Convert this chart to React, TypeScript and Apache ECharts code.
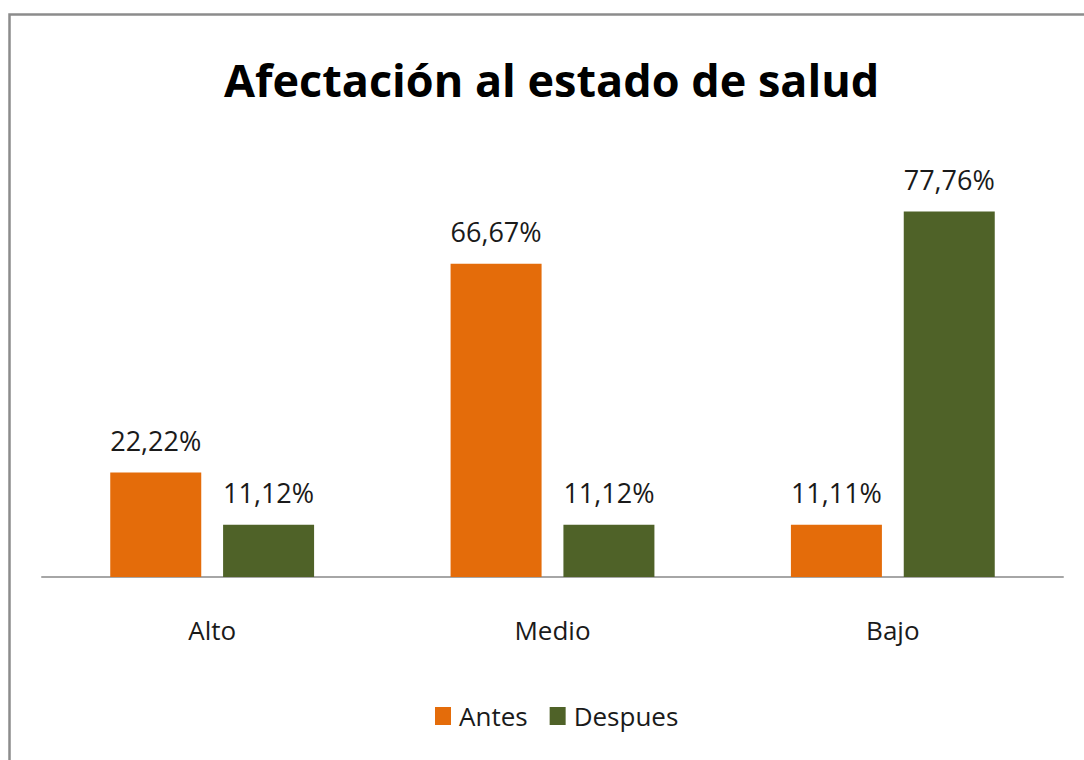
import React, { useEffect, useRef } from "react";
import * as echarts from "echarts";

const categories = ["Alto", "Medio", "Bajo"];
const antes = [22.22, 66.67, 11.11];
const despues = [11.12, 11.12, 77.76];
const seriesNames = ["Antes", "Despues"];
const titleText = "Afectación al estado de salud";

const fmt = (v: number) => v.toFixed(2).replace(".", ",") + "%";

export default function App() {
  const ref = useRef<HTMLDivElement>(null);
  useEffect(() => {
    document.body.style.margin = "0";
    const chart = echarts.init(ref.current!, null, { renderer: "svg" });
    const font = "'Open Sans', 'Noto Sans', sans-serif";
    const labelStyle = {
      show: true,
      position: "top" as const,
      distance: 19,
      fontFamily: font,
      fontSize: 27,
      color: "#1a1a1a",
      formatter: (p: any) => fmt(p.value),
    };
    chart.setOption({
      animation: false,
      backgroundColor: "#fff",
      title: {
        text: titleText,
        left: 219,
        top: 52,
        textStyle: { fontFamily: font, fontSize: 45, fontWeight: "bold", color: "#000" },
      },
      graphic: [
        {
          type: "rect",
          shape: { x: 9.5, y: 14.5, width: 1200, height: 1000 },
          style: { fill: "none", stroke: "#8c8c8c", lineWidth: 2.5 },
          silent: true,
        },
      ],
      legend: {
        data: seriesNames,
        bottom: 26,
        left: 430,
        itemWidth: 16,
        itemHeight: 18,
        itemGap: 22,
        icon: "rect",
        textStyle: { fontFamily: font, fontSize: 26, color: "#1a1a1a", padding: [0, 0, 0, 3] },
      },
      grid: { left: 42, right: 21, top: 154, bottom: 183, containLabel: false },
      xAxis: {
        type: "category",
        data: categories,
        axisLine: { lineStyle: { color: "#a6a6a6", width: 2 } },
        axisTick: { show: false },
        axisLabel: { margin: 40, fontFamily: font, fontSize: 26, color: "#1a1a1a" },
      },
      yAxis: { type: "value", min: 0, max: 90, show: false, splitLine: { show: false } },
      series: [
        {
          name: seriesNames[0],
          type: "bar",
          data: antes,
          barWidth: 91,
          barGap: "24%",
          itemStyle: { color: "#e46c0a" },
          label: labelStyle,
        },
        {
          name: seriesNames[1],
          type: "bar",
          data: despues,
          barWidth: 91,
          itemStyle: { color: "#4f6228" },
          label: labelStyle,
        },
      ],
    });
    return () => chart.dispose();
  }, []);
  return <div ref={ref} style={{ width: 1084, height: 760 }} />;
}
